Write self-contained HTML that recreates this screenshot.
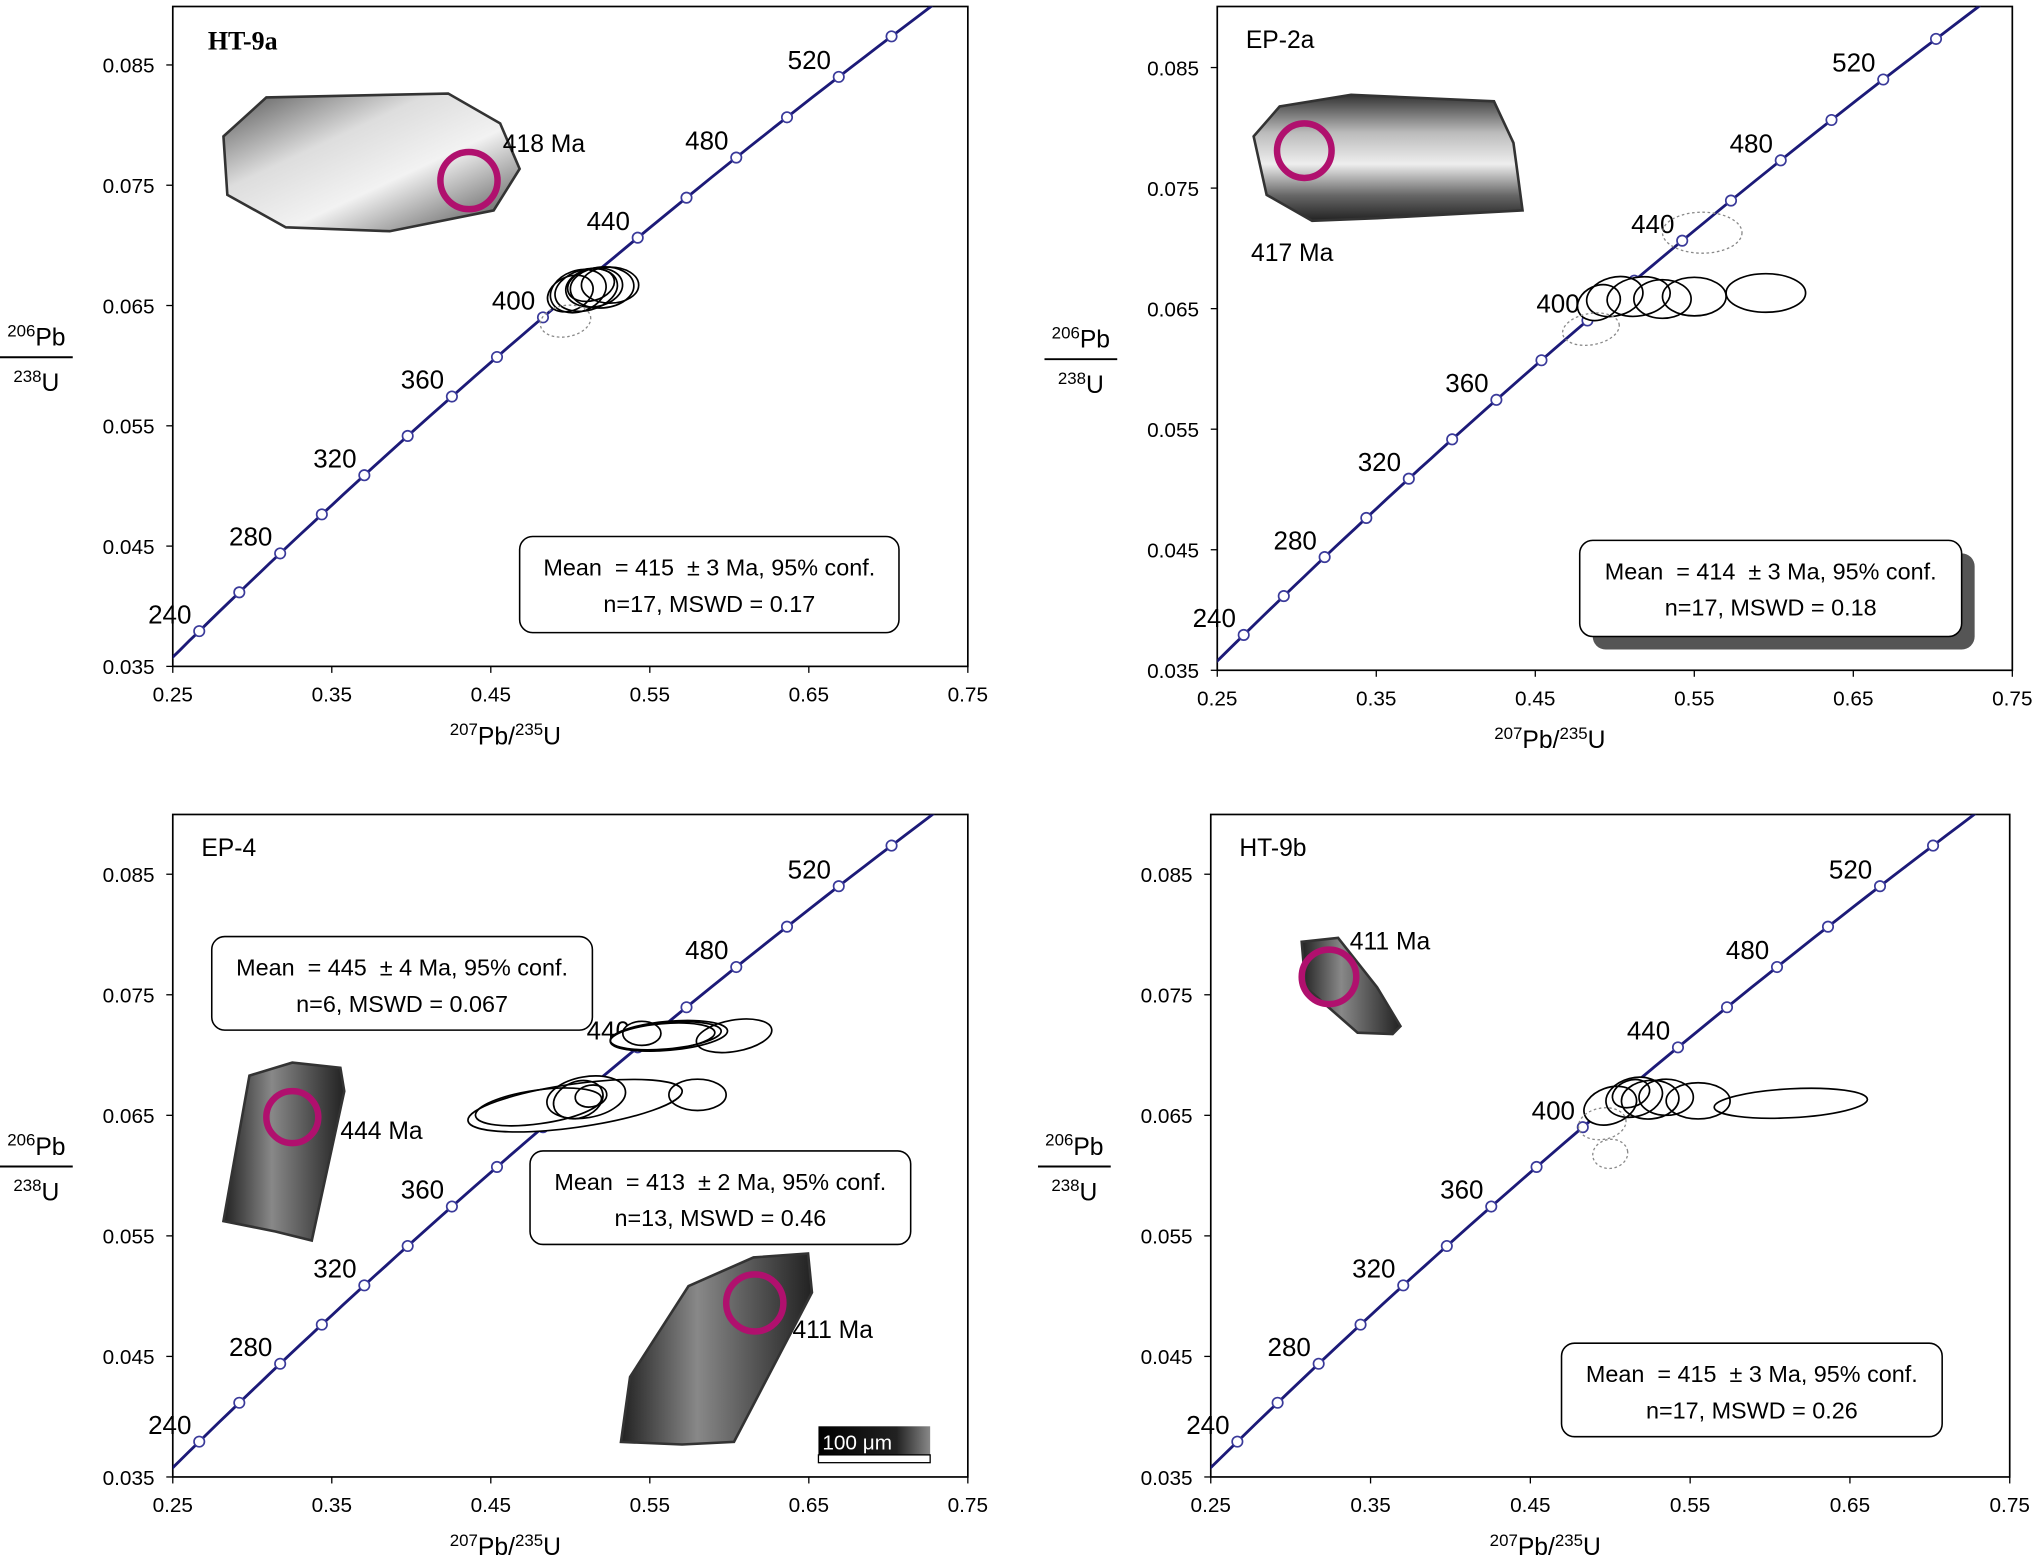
<!DOCTYPE html>
<html><head><meta charset="utf-8"><style>
html,body{margin:0;padding:0;background:#fff}
svg{display:block;font-family:"Liberation Sans",sans-serif}
.pre{white-space:pre}
</style></head><body>
<svg id="c" width="2037" height="1564" viewBox="0 0 1568 1204" preserveAspectRatio="none">
<defs>
<linearGradient id="zg1" x1="0" y1="0" x2="1" y2="1"><stop offset="0" stop-color="#555"/><stop offset="0.35" stop-color="#ddd"/><stop offset="0.6" stop-color="#f2f2f2"/><stop offset="1" stop-color="#444"/></linearGradient>
<linearGradient id="zg2" x1="0" y1="0" x2="0" y2="1"><stop offset="0" stop-color="#333"/><stop offset="0.3" stop-color="#bbb"/><stop offset="0.55" stop-color="#eee"/><stop offset="0.8" stop-color="#666"/><stop offset="1" stop-color="#222"/></linearGradient>
<linearGradient id="zg3" x1="0" y1="0" x2="1" y2="0"><stop offset="0" stop-color="#222"/><stop offset="0.4" stop-color="#888"/><stop offset="0.7" stop-color="#555"/><stop offset="1" stop-color="#222"/></linearGradient>
<linearGradient id="sb" x1="0" y1="0" x2="1" y2="0"><stop offset="0" stop-color="#000"/><stop offset="0.7" stop-color="#222"/><stop offset="1" stop-color="#888"/></linearGradient>
</defs>
</svg>
<script>
const ages=[240,260,280,300,320,340,360,380,400,420,440,460,480,500,520,540];
const labelAges=[240,280,320,360,400,440,480,520];
const xTicks=[0.25,0.35,0.45,0.55,0.65,0.75];
const yTicks=[0.035,0.045,0.055,0.065,0.075,0.085];
// ellipses: [x207, y206, rx, ry, angleDeg, dotted]
const ell1=[[0.500,0.0660,0.015,0.0014,-25,0],[0.505,0.0662,0.018,0.0017,-20,0],[0.510,0.0663,0.020,0.0017,-15,0],[0.515,0.0665,0.018,0.0016,-10,0],[0.520,0.0665,0.020,0.0017,-5,0],[0.525,0.0667,0.018,0.0015,0,0],[0.513,0.0667,0.015,0.0013,-15,0],[0.497,0.0637,0.016,0.0013,-10,1]];
const ell2=[[0.490,0.0655,0.014,0.0014,-25,0],[0.500,0.0660,0.018,0.0016,-15,0],[0.515,0.0660,0.020,0.0016,-10,0],[0.530,0.0658,0.018,0.0016,0,0],[0.550,0.0660,0.020,0.0016,0,0],[0.595,0.0663,0.025,0.0016,0,0],[0.555,0.0713,0.025,0.0017,0,1],[0.485,0.0633,0.018,0.0013,-10,1]];
const ell3=[[0.503,0.0658,0.068,0.0018,-8,0],[0.480,0.0657,0.040,0.0014,-8,0],[0.510,0.0665,0.025,0.0017,-10,0],[0.505,0.0663,0.016,0.0015,-20,0],[0.513,0.0666,0.010,0.0009,-10,0],[0.580,0.0667,0.018,0.0013,0,0],[0.562,0.0716,0.037,0.0012,-5,0],[0.560,0.0716,0.035,0.0011,-5,0],[0.558,0.0715,0.033,0.0011,-5,0],[0.545,0.0718,0.012,0.0010,0,0],[0.603,0.0716,0.024,0.0013,-10,0]];
const ell4=[[0.500,0.0658,0.017,0.0015,-20,0],[0.515,0.0665,0.018,0.0016,-15,0],[0.525,0.0663,0.018,0.0016,-5,0],[0.535,0.0665,0.017,0.0015,0,0],[0.555,0.0662,0.020,0.0015,0,0],[0.513,0.0668,0.012,0.0011,-20,0],[0.613,0.0660,0.048,0.0012,-3,0],[0.495,0.0643,0.015,0.0013,-10,1],[0.500,0.0618,0.011,0.0012,-10,1]];
const panels=[
 {name:'ht-9a',x0:133,x1:745,yTop:5,y035:513,y085:50,title:'HT-9a',serif:true,ell:ell1,box:[400,413,292,74],mean:'Mean  = 415  ± 3 Ma, 95% conf.',n:'n=17, MSWD = 0.17',shadow:false},
 {name:'ep-2a',x0:937,x1:1549,yTop:5,y035:516,y085:52,title:'EP-2a',ell:ell2,box:[1216,416,294,74],mean:'Mean  = 414  ± 3 Ma, 95% conf.',n:'n=17, MSWD = 0.18',shadow:true},
 {name:'ep-4',x0:133,x1:745,yTop:627,y035:1137,y085:673,title:'EP-4',ell:ell3,box:[163,721,293,72],mean:'Mean  = 445  ± 4 Ma, 95% conf.',n:'n=6, MSWD = 0.067',shadow:false,box2:[408,886,293,72],mean2:'Mean  = 413  ± 2 Ma, 95% conf.',n2:'n=13, MSWD = 0.46'},
 {name:'ht-9b',x0:932,x1:1547,yTop:627,y035:1137,y085:673,title:'HT-9b',ell:ell4,box:[1202,1034,293,72],mean:'Mean  = 415  ± 3 Ma, 95% conf.',n:'n=17, MSWD = 0.26',shadow:false}
];
const NS='http://www.w3.org/2000/svg';
const svg=document.getElementById('c');
function mk(tag,attrs,parent,text){const e=document.createElementNS(NS,tag);for(const k in attrs)e.setAttribute(k,attrs[k]);if(text!==undefined)e.textContent=text;(parent||svg).appendChild(e);return e;}
const L238=1.55125e-10,L235=9.8485e-10;
function conc(t){return [Math.exp(L235*t*1e6)-1,Math.exp(L238*t*1e6)-1];}
panels.forEach((p,pi)=>{
 const g=mk('g',{});
 
 
 const sx=v=>p.x0+(v-0.25)*(p.x1-p.x0)/0.5;
 const sy=v=>p.y035-(v-0.035)*(p.y035-p.y085)/0.05;
 const cid='clip'+pi;
 const cp=mk('clipPath',{id:cid},g);mk('rect',{x:p.x0,y:p.yTop,width:p.x1-p.x0,height:p.y035-p.yTop},cp);
 const frame=mk('rect',{x:p.x0,y:p.yTop,width:p.x1-p.x0,height:p.y035-p.yTop,fill:'none',stroke:'#000','stroke-width':1.3},g);
 
 
 xTicks.forEach(v=>{
  mk('line',{x1:sx(v),x2:sx(v),y1:p.y035,y2:p.y035+5,stroke:'#000'},g);
  const t=mk('text',{x:sx(v),y:p.y035+27,'text-anchor':'middle','font-size':16},g,v.toFixed(2));
  
  
 });
 yTicks.forEach(v=>{
  mk('line',{x1:p.x0-5,x2:p.x0,y1:sy(v),y2:sy(v),stroke:'#000'},g);
  const t=mk('text',{x:p.x0-14,y:sy(v)+6,'text-anchor':'end','font-size':16},g,v.toFixed(3));
  
  
 });
 const xt=mk('text',{x:(p.x0+p.x1)/2-50,y:p.y035+60,'text-anchor':'middle','font-size':19},g);
 
 
 xt.innerHTML='<tspan font-size="13" dy="-7">207</tspan><tspan dy="7">Pb/</tspan><tspan font-size="13" dy="-7">235</tspan><tspan dy="7">U</tspan>';
 const ym=(p.yTop+p.y035)/2+12;
 const yx=p.x0-105;
 const yt=mk('g',{},g);
 
 
 const t1=mk('text',{x:yx,y:ym-5,'text-anchor':'middle','font-size':19},yt);t1.innerHTML='<tspan font-size="13" dy="-7">206</tspan><tspan dy="7">Pb</tspan>';
 mk('line',{x1:yx-28,x2:yx+28,y1:ym+4,y2:ym+4,stroke:'#000','stroke-width':1.5},yt);
 const t2=mk('text',{x:yx,y:ym+30,'text-anchor':'middle','font-size':19},yt);t2.innerHTML='<tspan font-size="13" dy="-7">238</tspan><tspan dy="7">U</tspan>';
 const inner=mk('g',{'clip-path':'url(#'+cid+')'},g);
 let d='';for(let t=200;t<=600;t+=5){const c=conc(t);d+=(d?'L':'M')+sx(c[0]).toFixed(1)+','+sy(c[1]).toFixed(1);}
 const cl=mk('path',{d:d,fill:'none',stroke:'#1c1a78','stroke-width':2.2},inner);
 
 
 ages.forEach(a=>{const c=conc(a);const m=mk('circle',{cx:sx(c[0]),cy:sy(c[1]),r:4,fill:'#fff',stroke:'#3a3a9a','stroke-width':1.3},inner);
  
  });
 labelAges.forEach(a=>{const c=conc(a);const t=mk('text',{x:sx(c[0])-6,y:sy(c[1])-6,'text-anchor':'end','font-size':20},g,String(a));
  
  });
 const eg=mk('g',{},g);
 
 
 p.ell.forEach(e=>{
  if(e[5])return;
  const rx=e[2]*(p.x1-p.x0)/0.5, ry=e[3]*(p.y035-p.y085)/0.05;
  mk('ellipse',{cx:sx(e[0]),cy:sy(e[1]),rx:rx,ry:ry,transform:'rotate('+e[4]+' '+sx(e[0])+' '+sy(e[1])+')',fill:'#fff',stroke:'none'},eg);
 });
 p.ell.forEach((e,i)=>{
  const rx=e[2]*(p.x1-p.x0)/0.5, ry=e[3]*(p.y035-p.y085)/0.05;
  const el=mk('ellipse',{cx:sx(e[0]),cy:sy(e[1]),rx:rx,ry:ry,transform:'rotate('+e[4]+' '+sx(e[0])+' '+sy(e[1])+')',fill:'none',stroke:e[5]?'#888':'#000','stroke-width':e[5]?1:1.3,'stroke-dasharray':e[5]?'2,2':'none'},eg);
  
  
 });
 const ti=mk('text',{x:p.x0+(p.serif?27:22),y:p.yTop+(p.serif?33:32),'font-size':p.serif?20:19,'font-weight':p.serif?'bold':'normal','font-family':p.serif?'Liberation Serif, serif':'Liberation Sans, sans-serif'},g,p.title);
 
 
 function box(b,m,n){
  const bg=mk('g',{},g);
  
  
  if(p.shadow)mk('rect',{x:b[0]+10,y:b[1]+10,width:b[2],height:b[3],rx:10,fill:'#555'},bg);
  mk('rect',{x:b[0],y:b[1],width:b[2],height:b[3],rx:10,fill:'#fff',stroke:'#000','stroke-width':1.2},bg);
  mk('text',{x:b[0]+b[2]/2,y:b[1]+30,'text-anchor':'middle','font-size':18,'class':'pre'},bg,m);
  mk('text',{x:b[0]+b[2]/2,y:b[1]+58,'text-anchor':'middle','font-size':18,'class':'pre'},bg,n);
 }
 box(p.box,p.mean,p.n);
 if(p.box2)box(p.box2,p.mean2,p.n2);
});
function zircon(pts,grad,cx,cy,r,label,lx,ly){
 const g=mk('g',{});
 
 
 mk('polygon',{points:pts,fill:'url(#'+grad+')',stroke:'#333','stroke-width':2},g);
 const c=mk('circle',{cx:cx,cy:cy,r:r,fill:'none',stroke:'#b0106e','stroke-width':5},g);
 
 
 mk('text',{x:lx,y:ly,'font-size':19},g,label);
}
zircon('172,105 205,75 345,72 385,95 400,130 380,162 300,178 220,175 175,150','zg1',361,139,22,'418 Ma',387,117);
zircon('965,105 985,82 1040,73 1150,78 1165,110 1172,162 1060,168 1010,170 975,150','zg2',1004,116,21,'417 Ma',963,201);
zircon('1002,725 1030,722 1060,760 1078,790 1072,796 1045,795 1005,760','zg3',1023,752,21,'411 Ma',1039,731);
zircon('192,828 225,818 262,822 265,840 240,955 212,948 172,940','zg3',225,860,20,'444 Ma',262,877);
zircon('530,990 580,968 622,965 625,995 565,1110 525,1112 478,1110 485,1060','zg3',581,1003,22,'411 Ma',610,1030);
const sb=mk('g',{});


mk('rect',{x:630,y:1098,width:86,height:22,fill:'url(#sb)'},sb);
mk('rect',{x:630,y:1120,width:86,height:6,fill:'#fff',stroke:'#000'},sb);
mk('text',{x:633,y:1116,'font-size':16,fill:'#fff'},sb,'100  μm');
</script>
</body></html>
